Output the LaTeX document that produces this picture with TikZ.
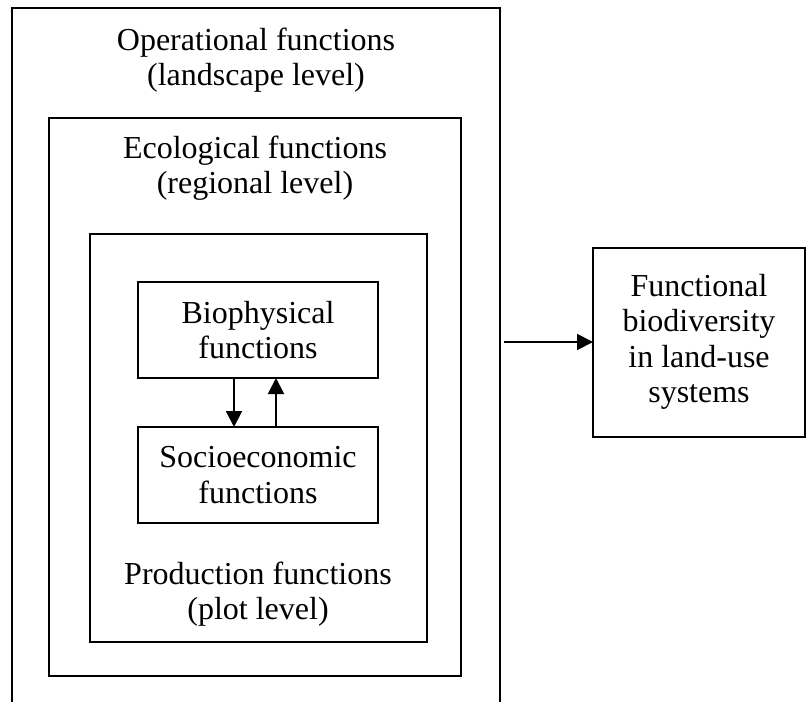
\documentclass[tikz,border=0pt]{standalone}
\usepackage{fontspec}
\setmainfont{Liberation Serif}
\usetikzlibrary{arrows.meta}
\begin{document}
\begin{tikzpicture}[x=1pt,y=-1pt,
  box/.style={draw=black,line width=2pt,inner sep=0pt,outer sep=0pt},
  lbl/.style={align=center,inner sep=0pt,font=\fontsize{32}{35.5}\selectfont},
  arr/.style={line width=2pt,-{Triangle[length=16pt,width=16pt]}}]
\useasboundingbox (0,0) rectangle (807,702);
% outer (open at bottom)
\draw[line width=2pt] (12,720) -- (12,7.5) -- (500,7.5) -- (500,720);
\coordinate (outerR) at (504,342);
\node[lbl] (oper) at (256,60) {Operational functions\\(landscape level)};
% middle
\node[box,minimum width=412pt,minimum height=558pt] (eco) at (255,397) {};
\node[lbl] (ecot) at (255,168) {Ecological functions\\(regional level)};
% production
\node[box,minimum width=337pt,minimum height=408pt] (prod) at (258.5,438) {};
\node[lbl] (prodt) at (258,594) {Production functions\\(plot level)};
% biophysical
\node[box,lbl,minimum width=240pt,minimum height=96pt] (bio) at (258,330) {Biophysical\\functions};
\node[box,lbl,minimum width=240pt,minimum height=96pt] (soc) at (258,475) {Socioeconomic\\functions};
% right box
\node[box,lbl,minimum width=212pt,minimum height=189pt] (func) at (699,342) {Functional\\biodiversity\\in land-use\\systems};
% arrows
\draw[arr] (bio.south -| 234,0) -- (soc.north -| 234,0);
\draw[arr] (soc.north -| 276,0) -- (bio.south -| 276,0);
\draw[arr] (outerR) -- (func.west);
\end{tikzpicture}
\end{document}
